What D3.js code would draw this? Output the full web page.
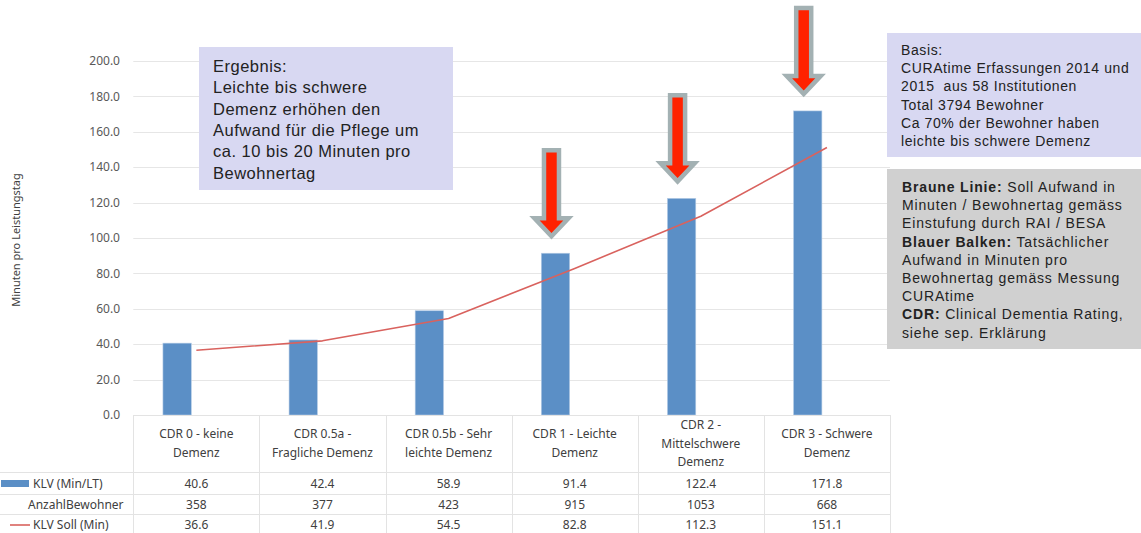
<!DOCTYPE html>
<html>
<head>
<meta charset="utf-8">
<script src="https://cdn.jsdelivr.net/npm/d3@7"></script>
<style>
  body { margin: 0; background: #fff; }
  svg { display: block; }
</style>
</head>
<body>
<svg id="chart" width="1141" height="533"></svg>
<script>
// data
var categories = [
	"CDR 0 - keine\nDemenz",
	"CDR 0.5a -\nFragliche Demenz",
	"CDR 0.5b - Sehr\nleichte Demenz",
	"CDR 1 - Leichte\nDemenz",
	"CDR 2 -\nMittelschwere\nDemenz",
	"CDR 3 - Schwere\nDemenz"
];
var klv = [40.6, 42.4, 58.9, 91.4, 122.4, 171.8];
var anzahl = [358, 377, 423, 915, 1053, 668];
var klvSoll = [36.6, 41.9, 54.5, 82.8, 112.3, 151.1];
var yTicks = [0, 20, 40, 60, 80, 100, 120, 140, 160, 180, 200];
var arrowCats = [3, 4, 5];

var rowLabels = ["KLV (Min/LT)", "AnzahlBewohner", "KLV Soll (Min)"];

var ergebnisText = [
	"Ergebnis:",
	"Leichte bis schwere",
	"Demenz erhöhen den",
	"Aufwand für die Pflege um",
	"ca. 10 bis 20 Minuten pro",
	"Bewohnertag"
];
var basisText = [
	"Basis:",
	"CURAtime Erfassungen 2014 und",
	"2015  aus 58 Institutionen",
	"Total 3794 Bewohner",
	"Ca 70% der Bewohner haben",
	"leichte bis schwere Demenz"
];
// [bold part, normal part]
var legendText = [
	["Braune Linie:", " Soll Aufwand in"],
	["", "Minuten / Bewohnertag gemäss"],
	["", "Einstufung durch RAI / BESA"],
	["Blauer Balken:", " Tatsächlicher"],
	["", "Aufwand in Minuten pro"],
	["", "Bewohnertag gemäss Messung"],
	["", "CURAtime"],
	["CDR:", " Clinical Dementia Rating,"],
	["", "siehe sep. Erklärung"]
];

(function() {

var BAR_COLOR = "#5b8fc6";
var LINE_COLOR = "#d9625e";
var GRID_COLOR = "#e6e6e6";
var TABLE_COLOR = "#e3e3e3";
var TEXT_COLOR = "#404040";
var CHART_FONT = "'Noto Sans', sans-serif";
var NOTE_FONT = "'Liberation Sans', Arial, sans-serif";

var svg = d3.select("#chart");

var plotLeft = 133.3, plotRight = 890, plotTop = 61, plotBottom = 415;

var x = d3.scaleBand().domain(d3.range(categories.length)).range([plotLeft, plotRight]);
var y = d3.scaleLinear().domain([0, 200]).range([plotBottom, plotTop]);
var bw = x.bandwidth();

// grid lines
svg.append("g").selectAll("line")
	.data(yTicks.filter(function(d) { return d > 0; }))
	.enter().append("line")
	.attr("x1", plotLeft).attr("x2", plotRight)
	.attr("y1", function(d) { return Math.round(y(d)) + 0.5; })
	.attr("y2", function(d) { return Math.round(y(d)) + 0.5; })
	.attr("stroke", GRID_COLOR)
	.attr("stroke-width", 1);

// y tick labels
svg.append("g").selectAll("text")
	.data(yTicks)
	.enter().append("text")
	.attr("x", 120)
	.attr("y", function(d) { return y(d); })
	.attr("dy", "0.35em")
	.attr("text-anchor", "end")
	.attr("font-family", CHART_FONT)
	.attr("font-size", 12)
	.attr("fill", "#595959")
	.text(function(d) { return d3.format(".1f")(d); });

svg.append("text")
	.attr("transform", "translate(20,240) rotate(-90)")
	.attr("text-anchor", "middle")
	.attr("font-family", CHART_FONT)
	.attr("font-size", 11)
	.attr("fill", TEXT_COLOR)
	.text("Minuten pro Leistungstag");

// bars (left slot of a two-slot cluster, second slot is the hidden Anzahl series)
svg.append("g").selectAll("rect")
	.data(klv)
	.enter().append("rect")
	.attr("x", function(d, i) { return x(i) + bw * 0.235; })
	.attr("width", bw * 0.225)
	.attr("y", function(d) { return y(d); })
	.attr("height", function(d) { return y(0) - y(d); })
	.attr("fill", BAR_COLOR)
	.attr("stroke", "#b7cde6")
	.attr("stroke-width", 0.6);

// soll line
var line = d3.line()
	.x(function(d, i) { return x(i) + bw / 2; })
	.y(function(d) { return y(d); });

svg.append("path")
	.datum(klvSoll)
	.attr("d", line)
	.attr("fill", "none")
	.attr("stroke", LINE_COLOR)
	.attr("stroke-width", 1.6)
	.attr("stroke-linejoin", "round");

// data table
var tbl = svg.append("g");
var rowY = [472, 494, 514, 535];

tbl.append("line")
	.attr("x1", plotLeft).attr("x2", plotRight)
	.attr("y1", plotBottom + 0.5).attr("y2", plotBottom + 0.5)
	.attr("stroke", TABLE_COLOR);

rowY.slice(0, 3).forEach(function(ry) {
	tbl.append("line")
		.attr("x1", 0).attr("x2", plotRight)
		.attr("y1", ry + 0.5).attr("y2", ry + 0.5)
		.attr("stroke", TABLE_COLOR);
});

d3.range(categories.length + 1).forEach(function(i) {
	var vx = Math.round(plotLeft + i * bw) + 0.5;
	tbl.append("line")
		.attr("x1", vx).attr("x2", vx)
		.attr("y1", plotBottom).attr("y2", 533)
		.attr("stroke", TABLE_COLOR);
});

// category headers
categories.forEach(function(c, i) {
	var lines = c.split("\n");
	var cy = (plotBottom + rowY[0]) / 2;
	var lh = 18.5;
	var t = tbl.append("text")
		.attr("text-anchor", "middle")
		.attr("font-family", CHART_FONT)
		.attr("font-size", 12)
		.attr("fill", TEXT_COLOR);
	lines.forEach(function(l, j) {
		t.append("tspan")
			.attr("x", x(i) + bw / 2)
			.attr("y", cy + (j - (lines.length - 1) / 2) * lh)
			.attr("dy", "0.35em")
			.text(l);
	});
});

// data rows
var rows = [
	klv.map(function(d) { return d3.format(".1f")(d); }),
	anzahl.map(String),
	klvSoll.map(function(d) { return d3.format(".1f")(d); })
];
rows.forEach(function(r, ri) {
	var cy = (rowY[ri] + rowY[ri + 1]) / 2 + 0.5;
	tbl.append("g").selectAll("text")
		.data(r)
		.enter().append("text")
		.attr("x", function(d, i) { return x(i) + bw / 2; })
		.attr("y", cy)
		.attr("dy", "0.35em")
		.attr("text-anchor", "middle")
		.attr("font-family", CHART_FONT)
		.attr("font-size", 12)
		.attr("fill", TEXT_COLOR)
		.text(function(d) { return d; });

	tbl.append("text")
		.attr("x", ri === 1 ? 28 : 33)
		.attr("y", cy)
		.attr("dy", "0.35em")
		.attr("font-family", CHART_FONT)
		.attr("font-size", 12)
		.attr("fill", TEXT_COLOR)
		.text(rowLabels[ri]);
});

// legend keys in the table
tbl.append("rect")
	.attr("x", 1).attr("y", (rowY[0] + rowY[1]) / 2 - 3)
	.attr("width", 28).attr("height", 7)
	.attr("fill", BAR_COLOR);
tbl.append("line")
	.attr("x1", 10).attr("x2", 30)
	.attr("y1", (rowY[2] + rowY[3]) / 2 + 0.5).attr("y2", (rowY[2] + rowY[3]) / 2 + 0.5)
	.attr("stroke", LINE_COLOR)
	.attr("stroke-width", 1.6);

// red arrows pointing down to the dementia bars
function arrowPath(cx, tipY) {
	var len = 86, shaftW = 15, headW = 34, headH = 18;
	var topY = tipY - len;
	var headY = tipY - headH;
	return "M" + (cx - shaftW / 2) + " " + topY +
		"L" + (cx + shaftW / 2) + " " + topY +
		"L" + (cx + shaftW / 2) + " " + headY +
		"L" + (cx + headW / 2) + " " + headY +
		"L" + cx + " " + tipY +
		"L" + (cx - headW / 2) + " " + headY +
		"L" + (cx - shaftW / 2) + " " + headY + "Z";
}

svg.append("g").selectAll("path")
	.data(arrowCats)
	.enter().append("path")
	.attr("d", function(i) {
		var cx = x(i) + bw * 0.235 + bw * 0.225 / 2 - 4;
		return arrowPath(cx, y(klv[i]) - 17);
	})
	.attr("fill", "#ff2200")
	.attr("stroke", "#a3b1b3")
	.attr("stroke-width", 4.5)
	.attr("stroke-linejoin", "miter");

// note boxes
function noteBox(bx, by, w, h, fill, lines, fontSize, spacing, lineH, tx, ty) {
	var g = svg.append("g");
	g.append("rect")
		.attr("x", bx).attr("y", by)
		.attr("width", w).attr("height", h)
		.attr("fill", fill);
	var t = g.append("text")
		.attr("font-family", NOTE_FONT)
		.attr("font-size", fontSize)
		.attr("letter-spacing", spacing)
		.attr("fill", "#222");
	lines.forEach(function(l, j) {
		var ts = t.append("tspan").attr("x", tx).attr("y", ty + j * lineH)
			.attr("xml:space", "preserve");
		if (typeof l === "string") {
			ts.text(l);
		} else {
			if (l[0]) ts.append("tspan").attr("font-weight", "bold").text(l[0]);
			ts.append("tspan").text(l[1]);
		}
	});
	return g;
}

noteBox(199, 47, 254, 143, "#d8d8f2", ergebnisText, 16.5, 0.5, 21.3, 213, 72);
noteBox(887, 33, 254, 124, "#d8d8f2", basisText, 14, 0.6, 18.2, 901, 55);
noteBox(887, 169, 254, 180, "#d0d0d0", legendText, 14, 0.85, 18.2, 902, 192);

})();
</script>
</body>
</html>
